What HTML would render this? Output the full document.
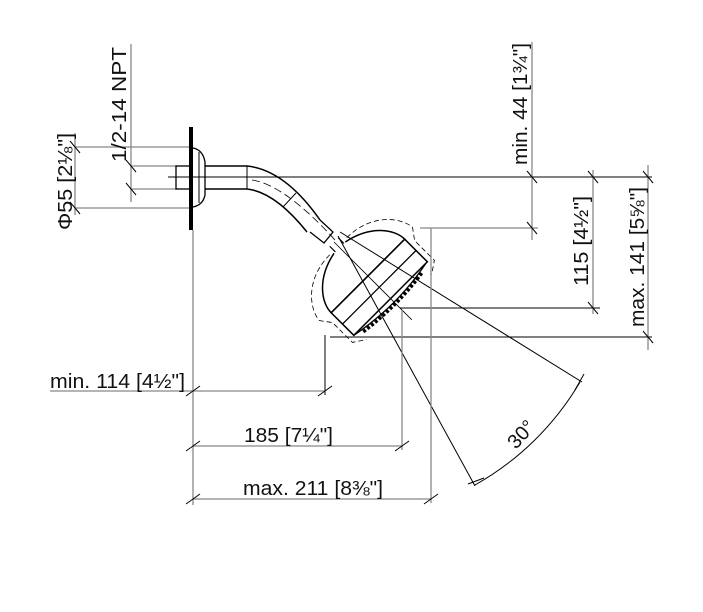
<!DOCTYPE html>
<html><head><meta charset="utf-8"><style>
html,body{margin:0;padding:0;background:#fff;width:703px;height:612px;overflow:hidden}
svg{display:block}
text{font-family:"Liberation Sans","DejaVu Sans",sans-serif;fill:#111}
</style></head><body>
<svg width="703" height="612" viewBox="0 0 703 612" xmlns="http://www.w3.org/2000/svg">
<g fill="none" stroke-linecap="butt">
<line x1="168" y1="177" x2="652" y2="177" stroke="#000" stroke-width="1"/>
<line x1="420" y1="228" x2="538" y2="228" stroke="#888" stroke-width="1.3"/>
<line x1="400" y1="308" x2="600" y2="308" stroke="#000" stroke-width="1"/>
<line x1="330" y1="337" x2="652" y2="337" stroke="#000" stroke-width="1"/>
<line x1="532" y1="42" x2="532" y2="240" stroke="#888" stroke-width="1.3"/>
<line x1="593" y1="170" x2="593" y2="314" stroke="#888" stroke-width="1.3"/>
<line x1="648" y1="165" x2="648" y2="350" stroke="#888" stroke-width="1.3"/>
<g stroke="#000" stroke-width="1">
<line x1="527" y1="171" x2="537" y2="183"/><line x1="527" y1="222" x2="537" y2="234"/>
<line x1="588" y1="171" x2="598" y2="183"/><line x1="588" y1="302" x2="598" y2="314"/>
<line x1="643" y1="171" x2="653" y2="183"/><line x1="643" y1="331" x2="653" y2="343"/>
</g>
<line x1="75" y1="133" x2="75" y2="215" stroke="#888" stroke-width="1.3"/>
<line x1="75" y1="147" x2="190" y2="147" stroke="#888" stroke-width="1.3"/>
<line x1="75" y1="208" x2="190" y2="208" stroke="#888" stroke-width="1.3"/>
<line x1="131" y1="44" x2="131" y2="202" stroke="#888" stroke-width="1.3"/>
<line x1="131" y1="166" x2="178" y2="166" stroke="#888" stroke-width="1.3"/>
<line x1="131" y1="189" x2="178" y2="189" stroke="#888" stroke-width="1.3"/>
<g stroke="#000" stroke-width="1">
<line x1="70" y1="141" x2="80" y2="153"/><line x1="70" y1="202" x2="80" y2="214"/>
<line x1="126" y1="160" x2="136" y2="172"/><line x1="126" y1="183" x2="136" y2="195"/>
</g>
<line x1="191" y1="127" x2="191" y2="230" stroke="#000" stroke-width="4"/>
<line x1="193" y1="230" x2="193" y2="505" stroke="#888" stroke-width="1.3"/>
<path d="M193 148 Q203 150 205 162 L205 195 Q203 205 193 207" stroke="#000" stroke-width="1.3"/>
<line x1="199" y1="152" x2="199" y2="203" stroke="#000" stroke-width="1"/>
<rect x="176" y="166" width="15" height="23" stroke="#000" stroke-width="1.3"/>
<path d="M205 166 L247 166 Q285 170 320 220" stroke="#000" stroke-width="1.5"/>
<path d="M205 189 L247 189 Q275 192 307 232" stroke="#000" stroke-width="1.5"/>
<line x1="247" y1="166" x2="247" y2="189" stroke="#000" stroke-width="1"/>
<path d="M252 180 Q285 185 335 240" stroke="#000" stroke-width="0.8" stroke-dasharray="8 4"/>
<line x1="283" y1="207" x2="296" y2="193" stroke="#000" stroke-width="1"/>
<path d="M320 220 L333 232 L324 243 L310 232" stroke="#000" stroke-width="1.3"/>
<g transform="translate(334,242) rotate(45)" stroke="#000">
<path d="M0 -6 L8 -6 M0 6 L8 6" stroke-width="1.2"/>
<path d="M8 -8 C14 -38 34 -52 48 -52 L48 52 C34 52 14 38 8 8" stroke-width="1.5"/>
<rect x="48" y="-52" width="32" height="104" stroke-width="1.5"/>
<line x1="64" y1="-52" x2="64" y2="52" stroke-width="1.3"/>
<path d="M80 -50 Q90 0 80 52" stroke-width="1.3"/>
<path d="M84 -40 Q90 0 84 44" stroke-width="3.5" stroke-dasharray="3 2"/>
<path d="M6 -12 C6 -45 28 -64 45 -66 L56 -58 L84 -58 L92 -46 M6 12 C6 45 28 64 45 66 L56 58 L84 58 L92 46" stroke-width="0.8" stroke-dasharray="5 3"/>
<line x1="0" y1="0" x2="110" y2="0" stroke-width="0.8"/>
</g>
<line x1="340" y1="232" x2="582" y2="382" stroke="#000" stroke-width="1"/>
<line x1="338" y1="236" x2="475" y2="486" stroke="#000" stroke-width="1"/>
<path d="M580 382 A282 282 0 0 1 475 485" stroke="#000" stroke-width="1"/>
<line x1="575" y1="390" x2="584" y2="374" stroke="#000" stroke-width="1"/>
<line x1="468" y1="484" x2="484" y2="478" stroke="#000" stroke-width="1"/>
<line x1="325" y1="335" x2="325" y2="395" stroke="#000" stroke-width="1"/>
<line x1="402" y1="310" x2="402" y2="450" stroke="#888" stroke-width="1.3"/>
<line x1="431" y1="228" x2="431" y2="503" stroke="#888" stroke-width="1.3"/>
<line x1="50" y1="391" x2="325" y2="391" stroke="#888" stroke-width="1.3"/>
<line x1="193" y1="446" x2="402" y2="446" stroke="#888" stroke-width="1.3"/>
<line x1="193" y1="499" x2="431" y2="499" stroke="#888" stroke-width="1.3"/>
<g stroke="#000" stroke-width="1">
<line x1="186" y1="396" x2="200" y2="386"/><line x1="318" y1="396" x2="332" y2="386"/>
<line x1="186" y1="451" x2="200" y2="441"/><line x1="395" y1="451" x2="409" y2="441"/>
<line x1="186" y1="504" x2="200" y2="494"/><line x1="424" y1="504" x2="438" y2="494"/>
</g>
</g>
<g font-size="20">
<text x="50" y="388" textLength="135" lengthAdjust="spacingAndGlyphs">min. 114 [4½"]</text>
<text x="244" y="442" textLength="89" lengthAdjust="spacingAndGlyphs">185 [7¼"]</text>
<text x="243" y="495" textLength="140" lengthAdjust="spacingAndGlyphs">max. 211 [8⅜"]</text>
<text transform="translate(527,165) rotate(-90)" textLength="122" lengthAdjust="spacingAndGlyphs">min. 44 [1¾"]</text>
<text transform="translate(588,286) rotate(-90)" textLength="90" lengthAdjust="spacingAndGlyphs">115 [4½"]</text>
<text transform="translate(644,327) rotate(-90)" textLength="140" lengthAdjust="spacingAndGlyphs">max. 141 [5⅝"]</text>
<text transform="translate(72,230) rotate(-90)" textLength="97" lengthAdjust="spacingAndGlyphs">Φ55 [2⅛"]</text>
<text transform="translate(126,162) rotate(-90)" textLength="115" lengthAdjust="spacingAndGlyphs">1/2-14 NPT</text>
<text transform="translate(516,450) rotate(-48)">30°</text>
</g>
</svg>
</body></html>
